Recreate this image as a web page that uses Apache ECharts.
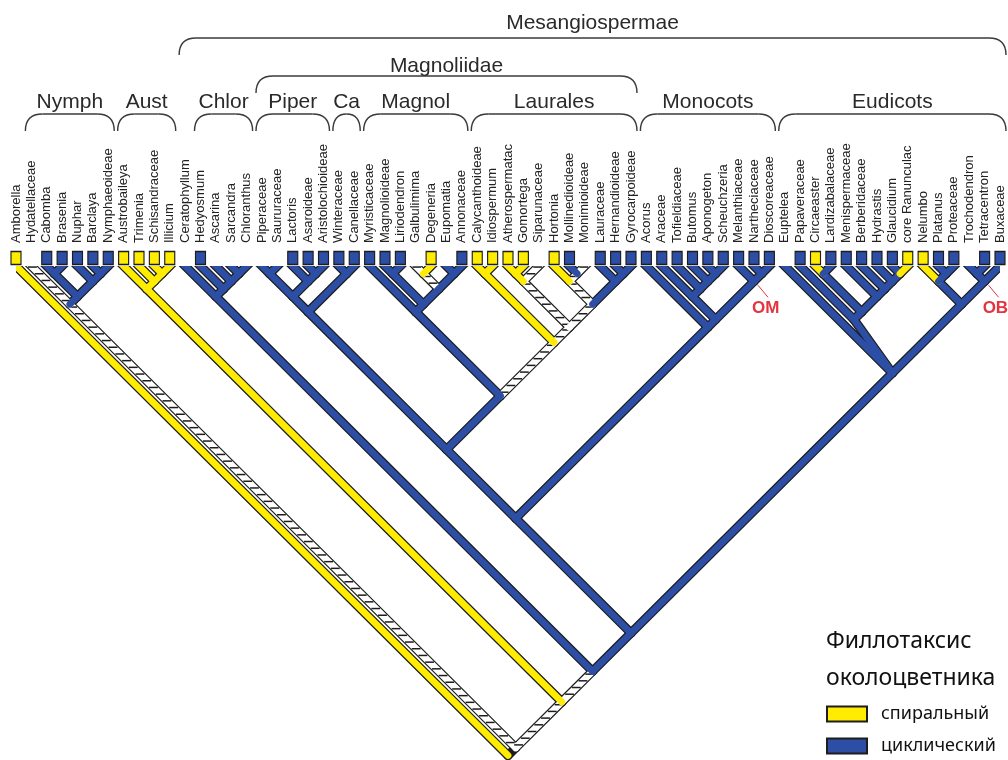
<!DOCTYPE html>
<html><head><meta charset="utf-8">
<script src="https://cdn.jsdelivr.net/npm/echarts@6/dist/echarts.min.js"></script>
<style>html,body{margin:0;padding:0;background:#fff}#c{width:1008px;height:760px}</style>
</head><body><div id="c"></div>
<script>
// ---- DATA ----
const leaves = ["Amborella","Hydatellaceae","Cabomba","Brasenia","Nuphar","Barclaya","Nymphaeoideae",
 "Austrobaileya","Trimenia","Schisandraceae","Illicium","Ceratophyllum","Hedyosmum","Ascarina","Sarcandra","Chloranthus",
 "Piperaceae","Saururaceae","Lactoris","Asaroideae","Aristolochioideae","Winteraceae","Canellaceae",
 "Myristicaceae","Magnolioideae","Liriodendron","Galbulimima","Degeneria","Eupomatia","Annonaceae",
 "Calycanthoideae","Idiospermum","Atherospermatac","Gomortega","Siparunaceae","Hortonia","Mollinedioideae","Monimioideae",
 "Lauraceae","Hernandioideae","Gyrocarpoideae",
 "Acorus","Araceae","Tofieldiaceae","Butomus","Aponogeton","Scheuchzeria","Melanthiaceae","Nartheciaceae","Dioscoreaceae",
 "Euptelea","Papaveraceae","Circaeaster","Lardizabalaceae","Menispermaceae","Berberidaceae","Hydrastis","Glaucidium",
 "core Ranunculac","Nelumbo","Platanus","Proteaceae","Trochodendron","Tetracentron","Buxaceae"];
// perianth phyllotaxis of each tip: S spiral, C cyclic, '' not scored
const tipState = ["S","","C","C","C","C","C","S","S","S","S","","C","","","","","","C","C","C","C","C","C","C","C",
 "","S","","C","S","S","S","S","","S","C","","C","C","C","C","C","C","C","C","C","C","C","C",
 "","C","S","C","C","C","C","C","S","S","C","C","","C","C"];
// clades in Newick; ":X" = state of the branch below a node (S spiral, C cyclic, E equivocal)
const nwNymph  = "(Hydatellaceae:E,((Cabomba:C,Brasenia:C):C,(Nuphar:C,(Barclaya:C,Nymphaeoideae:C):C):C):C)";
const nwAust   = "(Austrobaileya:S,(Trimenia:S,(Schisandraceae:S,Illicium:S):S):S)";
const nwChlor  = "(Ceratophyllum:C,(Hedyosmum:C,(Ascarina:C,(Sarcandra:C,Chloranthus:C):C):C):C)";
const nwPipCan = "(((Piperaceae:C,Saururaceae:C):C,(Lactoris:C,(Asaroideae:C,Aristolochioideae:C):C):C):C,(Winteraceae:C,Canellaceae:C):C)";
const nwMagnol = "(Myristicaceae:C,((Magnolioideae:C,Liriodendron:C):C,((Galbulimima:E,Degeneria:S):E,(Eupomatia:C,Annonaceae:C):C):C):C)";
const nwLaur   = "((Calycanthoideae:S,Idiospermum:S):S,(((Atherospermatac:S,Gomortega:S):S,Siparunaceae:E):E,((Hortonia:S,(Mollinedioideae:C,Monimioideae:E):E):E,(Lauraceae:C,(Hernandioideae:C,Gyrocarpoideae:C):C):C):E):E)";
const nwMono   = "(Acorus:C,((Araceae:C,(Tofieldiaceae:C,(Butomus:C,(Aponogeton:C,Scheuchzeria:C):C):C):C):C,(Melanthiaceae:C,(Nartheciaceae:C,Dioscoreaceae:C):C):C):C)";
const nwEud    = "((Euptelea:C,(Papaveraceae:C,((Circaeaster:S,Lardizabalaceae:C):C,(Menispermaceae:C,(Berberidaceae:C,(Hydrastis:C,(Glaucidium:C,core Ranunculac:S):C):C):C):C):C):C,((Nelumbo:S,(Platanus:C,Proteaceae:C):C):C,((Trochodendron:C,Tetracentron:C):C,Buxaceae:C):C):C)";
const treeNewick = `(Amborella:S,(${nwNymph}:E,(${nwAust}:S,(${nwChlor}:C,(((${nwPipCan}:C,(${nwMagnol}:C,${nwLaur}:E):C):C,${nwMono}:C):C,${nwEud}:C):C):C):E):E)`;
// clade brackets: label, first tip, last tip, level
const cladeGroups = [
 ["Nymph","Hydatellaceae","Nymphaeoideae",0],["Aust","Austrobaileya","Illicium",0],["Chlor","Hedyosmum","Chloranthus",0],
 ["Piper","Piperaceae","Aristolochioideae",0],["Ca","Winteraceae","Canellaceae",0],["Magnol","Myristicaceae","Annonaceae",0],
 ["Laurales","Calycanthoideae","Gyrocarpoideae",0],["Monocots","Acorus","Dioscoreaceae",0],["Eudicots","Euptelea","Buxaceae",0],
 ["Magnoliidae","Piperaceae","Gyrocarpoideae",1],["Mesangiospermae","Ceratophyllum","Buxaceae",2]];
const nodeMarks = [["OM","Melanthiaceae","Dioscoreaceae"],["OB","Trochodendron","Buxaceae"]];
const stateNames = {S:"спиральный", C:"циклический"};

// ---- build tree ----
function parseNewick(s){let i=0;
 function node(){const n={children:[]};
  if(s[i]==='('){i++;n.children.push(node());while(s[i]===','){i++;n.children.push(node());}i++;}
  else{let st=i;while(i<s.length&&!',():;'.includes(s[i]))i++;n.name=s.slice(st,i).trim();}
  if(s[i]===':'){i++;let st=i;while(i<s.length&&!',();'.includes(s[i]))i++;n.state=s.slice(st,i).trim();}
  return n;}
 return node();}
const root=parseNewick(treeNewick);
function lay(n){ if(!n.children.length){n.lo=n.hi=leaves.indexOf(n.name);}
 else{n.children.forEach(lay);n.lo=Math.min(...n.children.map(c=>c.lo));n.hi=Math.max(...n.children.map(c=>c.hi));}
 n.x=(n.lo+n.hi)/2;n.h=(n.hi-n.lo)/2;}
lay(root);
const edges=[];
(function walk(n){n.children.forEach(c=>{edges.push([c.x,c.h,n.x,n.h,c.state,c.children.length?0:1]);walk(c);});})(root);
const hatchedIdx=edges.map((e,k)=>k).filter(k=>edges[k][4]==='E');
const solidIdx=edges.map((e,k)=>k).filter(k=>edges[k][4]!=='E');

const COL={S:'#ffec00',C:'#2d4ea5',E:'#ffffff'};
const INK='#1d1d1d';
function seg(api,e){const a=api.coord([e[0],e[1]]),b=api.coord([e[2],e[3]]);
 const dx=b[0]-a[0],dy=b[1]-a[1],L=Math.hypot(dx,dy),ux=dx/L,uy=dy/L;
 if(e[5]){a[0]-=ux*12;a[1]-=uy*12;}
 return {a,b,ux,uy,L:Math.hypot(b[0]-a[0],b[1]-a[1])};}
function fillItem(e,api){const s=seg(api,e);
 const ch=[{type:'line',shape:{x1:s.a[0],y1:s.a[1],x2:s.b[0],y2:s.b[1]},style:{stroke:COL[e[4]],lineWidth:6.8,lineCap:'round'}}];
 if(e[4]==='E'){for(let t=4;t<s.L-2;t+=9.5){const x=s.a[0]+s.ux*t,y=s.a[1]+s.uy*t;
   ch.push({type:'line',shape:{x1:x-4.4,y1:y,x2:x+4.4,y2:y},style:{stroke:INK,lineWidth:1.5}});}}
 return {type:'group',children:ch};}

const chart=echarts.init(document.getElementById('c'),null,{renderer:'canvas'});
chart.setOption({
 animation:false,
 title:{text:'Филлотаксис\nоколоцветника',left:826,top:623,padding:0,
  textStyle:{fontFamily:'Noto Sans',fontSize:23,fontWeight:'normal',lineHeight:37,color:'#111'}},
 legend:{data:[stateNames.S,stateNames.C],orient:'vertical',left:826,top:705,padding:0,itemWidth:40,itemHeight:15,itemGap:14,
  icon:'rect',selectedMode:false,
  textStyle:{fontFamily:'Noto Sans',fontSize:18,color:'#111',lineHeight:15,padding:[0,0,0,9]}},
 grid:[{left:16,right:8,top:266,bottom:0},{left:16,right:8,top:246,height:20}],
 xAxis:[{type:'value',min:0,max:64,show:false,gridIndex:0},
  {type:'category',gridIndex:1,data:leaves,boundaryGap:false,position:'top',
   axisLine:{show:false},axisTick:{show:false},
   axisLabel:{interval:0,rotate:90,margin:3,fontFamily:'Liberation Sans',fontSize:13,color:'#222'}}],
 yAxis:[{type:'value',min:0,max:32.3,inverse:true,show:false,gridIndex:0},
  {type:'value',min:0,max:1,show:false,gridIndex:1}],
 series:[
  {type:'custom',name:'outline',xAxisIndex:0,yAxisIndex:0,clip:true,z:2,data:edges.map((e,k)=>[k]),
   renderItem(p,api){const s=seg(api,edges[p.dataIndex]);
    return {type:'line',shape:{x1:s.a[0],y1:s.a[1],x2:s.b[0],y2:s.b[1]},style:{stroke:INK,lineWidth:9.2,lineCap:'round'}};}},
  {type:'custom',name:'hatched',xAxisIndex:0,yAxisIndex:0,clip:true,z:3,data:hatchedIdx.map(k=>[k]),
   renderItem(p,api){return fillItem(edges[hatchedIdx[p.dataIndex]],api);}},
  {type:'custom',name:'solid',xAxisIndex:0,yAxisIndex:0,clip:true,z:4,data:solidIdx.map(k=>[k]),
   renderItem(p,api){return fillItem(edges[solidIdx[p.dataIndex]],api);}},
  {type:'custom',name:'marks',xAxisIndex:0,yAxisIndex:0,clip:false,z:5,data:nodeMarks.map((m,k)=>[k]),
   renderItem(p,api){const m=nodeMarks[p.dataIndex];const lo=leaves.indexOf(m[1]),hi=leaves.indexOf(m[2]);
    const c=api.coord([(lo+hi)/2,(hi-lo)/2]);
    return {type:'group',children:[
     {type:'line',shape:{x1:c[0]+4,y1:c[1]+4,x2:c[0]+14,y2:c[1]+16},style:{stroke:'#e3343f',lineWidth:1}},
     {type:'text',x:c[0]-2,y:c[1]+27,style:{text:m[0],fill:'#e3343f',font:'bold 17px "Liberation Sans", Arial',align:'left',verticalAlign:'middle'}}]};}},
  {type:'custom',name:'clades',xAxisIndex:1,yAxisIndex:1,clip:false,z:5,data:cladeGroups.map((g,k)=>[k]),
   renderItem(p,api){const g=cladeGroups[p.dataIndex];
    const x1=api.coord([leaves.indexOf(g[1]),0])[0]-6,x2=api.coord([leaves.indexOf(g[2]),0])[0]+6;
    const yt=[114,76,38][g[3]],yb=yt+17,ty=[102,66,23][g[3]];const r=Math.min(17,(x2-x1)/2);
    const st={stroke:'#3a3a3a',lineWidth:1.4,fill:'none'};
    return {type:'group',children:[
     {type:'bezierCurve',shape:{x1:x1,y1:yb,cpx1:x1,cpy1:yt,x2:x1+r,y2:yt},style:st},
     {type:'line',shape:{x1:x1+r,y1:yt,x2:x2-r,y2:yt},style:st},
     {type:'bezierCurve',shape:{x1:x2-r,y1:yt,cpx1:x2,cpy1:yt,x2:x2,y2:yb},style:st},
     {type:'text',x:(x1+x2)/2,y:ty,style:{text:g[0],fill:'#2a2a2a',font:'21px "Liberation Sans", Arial',align:'center',verticalAlign:'middle'}}]};}},
  {type:'scatter',name:stateNames.S,xAxisIndex:1,yAxisIndex:1,symbol:'rect',symbolSize:[10,13],z:6,
   itemStyle:{color:COL.S,borderColor:INK,borderWidth:1.3,opacity:1},
   data:leaves.map((n,i)=>tipState[i]==='S'?[i,0.4]:null).filter(Boolean)},
  {type:'scatter',name:stateNames.C,xAxisIndex:1,yAxisIndex:1,symbol:'rect',symbolSize:[10,13],z:6,
   itemStyle:{color:COL.C,borderColor:INK,borderWidth:1.3,opacity:1},
   data:leaves.map((n,i)=>tipState[i]==='C'?[i,0.4]:null).filter(Boolean)}
 ]
});
</script></body></html>
